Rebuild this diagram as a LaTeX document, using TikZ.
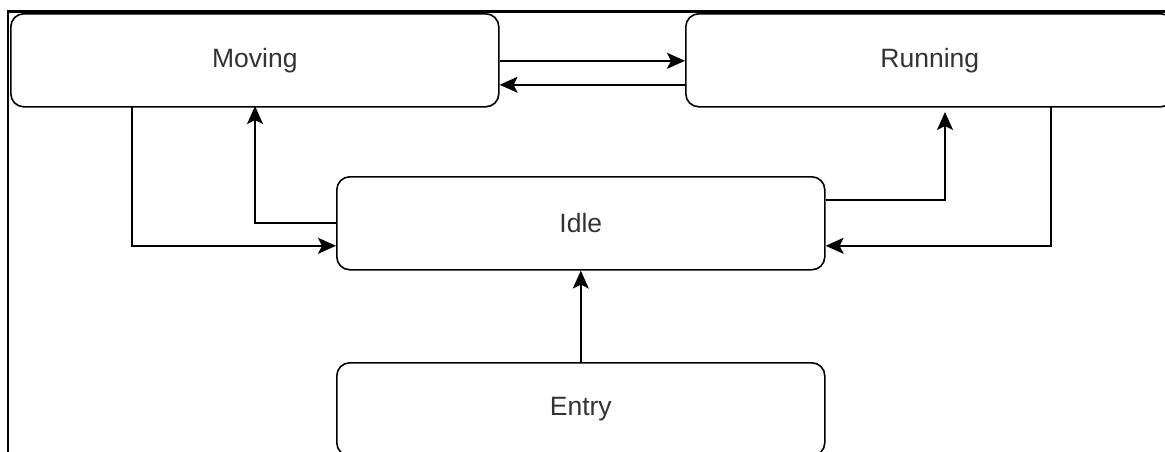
\documentclass[tikz,border=0pt]{standalone}
\usepackage{fontspec}
\setmainfont{Liberation Sans}
\usetikzlibrary{arrows.meta}
\definecolor{labelgrey}{HTML}{333333}
\tikzset{
  statebox/.style={draw=black, line width=1.6pt, rounded corners=13pt, fill=white,
    minimum width=488pt, minimum height=93pt, inner sep=0pt, anchor=north west,
    text=labelgrey, font=\fontsize{26.5}{30}\selectfont},
  flow/.style={draw=black, line width=1.6pt, -{Stealth[length=18pt, width=16pt, inset=4pt]}},
  frame/.style={draw=black, line width=2.2pt}
}
\begin{document}
\begin{tikzpicture}[x=1pt, y=-1pt]
  \useasboundingbox (0,0) rectangle (1165,452);
  \begin{scope}
    \clip (0,0) rectangle (1165,452);
    % states
    \node[statebox] (moving)  at (10,13)   {Moving};
    \node[statebox] (running) at (685,13)  {Running};
    \node[statebox] (idle)    at (336,176) {Idle};
    \node[statebox] (entry)   at (336,362) {Entry};
    % surrounding frame
    \draw[frame] (8,452) -- (8,11.5) -- (1165,11.5);
    % transitions between the upper states
    \draw[flow] ([yshift=-0.5pt]moving.east) -- ([yshift=-0.5pt]running.west);
    \draw[flow] ([yshift=-24.5pt]running.west) -- ([yshift=-24.5pt]moving.east);
    % Moving -> Idle
    \coordinate (mdown) at (132,106);
    \draw[flow] (mdown) |- ([yshift=-22.5pt]idle.west);
    % Idle -> Moving
    \coordinate (mup) at (255,106);
    \draw[flow] ([yshift=0.5pt]idle.west) -| (mup);
    % Idle -> Running
    \coordinate (rup) at (945,106);
    \draw[flow, shorten >=6pt] ([yshift=23.5pt]idle.east) -| (rup);
    % Running -> Idle
    \coordinate (rdown) at (1051,106);
    \draw[flow] (rdown) |- ([yshift=-22.5pt]idle.east);
    % Entry -> Idle
    \draw[flow] (entry.north) -- (idle.south);
  \end{scope}
\end{tikzpicture}
\end{document}
